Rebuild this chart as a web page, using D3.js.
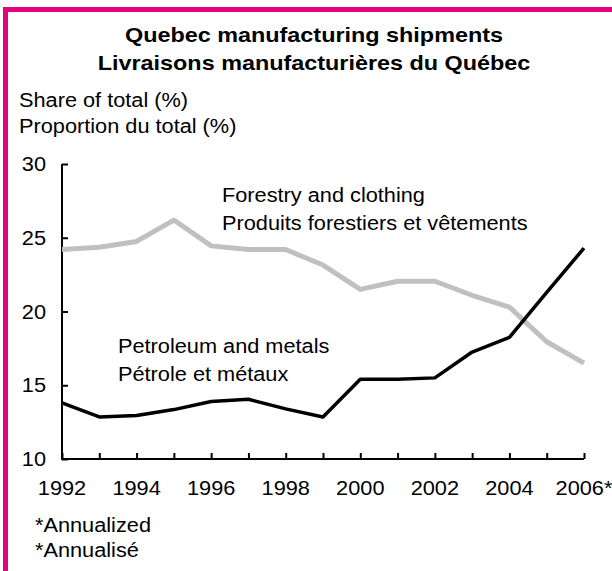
<!DOCTYPE html>
<html>
<head>
<meta charset="utf-8">
<script src="https://cdn.jsdelivr.net/npm/d3@7"></script>
<style>
  html, body { margin: 0; padding: 0; background: #fff; }
  svg { display: block; }
  text { font-family: "Liberation Sans", Arial, Helvetica, sans-serif; fill: #000; }
</style>
</head>
<body>
<svg id="chart" width="612" height="571"></svg>
<script>
// ---- Data ----
const years = [1992,1993,1994,1995,1996,1997,1998,1999,2000,2001,2002,2003,2004,2005,2006];
const forestryClothing = [24.2,24.35,24.75,26.2,24.45,24.2,24.2,23.15,21.5,22.05,22.05,21.1,20.3,17.95,16.5];
const petroleumMetals  = [13.8,12.85,12.95,13.35,13.9,14.05,13.4,12.85,15.4,15.4,15.5,17.25,18.25,21.3,24.3];
const yTicks = [10,15,20,25,30];
const xLabelYears = [1992,1994,1996,1998,2000,2002,2004,2006];
const titleLines = ["Quebec manufacturing shipments", "Livraisons manufacturières du Québec"];
const yTitleLines = ["Share of total (%)", "Proportion du total (%)"];
const forestryLabel = ["Forestry and clothing", "Produits forestiers et vêtements"];
const petroleumLabel = ["Petroleum and metals", "Pétrole et métaux"];
const footnotes = ["*Annualized", "*Annualisé"];

// ---- Layout ----
const svg = d3.select("#chart");
const FS = 19.5, SX = 1.115;     // regular text size / horizontal stretch
const TFS = 19.5, TSX = 1.2;     // title

const x = d3.scaleLinear().domain([1992, 2006]).range([62, 584]);
const y = d3.scaleLinear().domain([10, 30]).range([459, 164]);

// border
svg.append("rect")
  .attr("x", 5.5).attr("y", 9.5)
  .attr("width", 700).attr("height", 700)
  .attr("fill", "none").attr("stroke", "#e6007e").attr("stroke-width", 5);

function txt(str, px, py, opts = {}) {
  const t = svg.append("text")
    .attr("transform", `translate(${px},${py}) scale(${opts.sx || SX},1)`)
    .attr("font-size", opts.fs || FS)
    .attr("text-anchor", opts.anchor || "start")
    .text(str);
  if (opts.bold) t.attr("font-weight", "bold");
  return t;
}

// titles
titleLines.forEach((s, i) => txt(s, 314, 42 + i * 28, {fs: TFS, sx: TSX, bold: true, anchor: "middle"}));
yTitleLines.forEach((s, i) => txt(s, 19, 107 + i * 25.5));

// axes
const yAxis = d3.axisLeft(y).tickValues(yTicks).tickSize(-6).tickPadding(16).tickFormat(d3.format("d"));
const gy = svg.append("g").attr("transform", `translate(${x(1992)},0)`).call(yAxis);
gy.select(".domain").remove();
gy.selectAll(".tick line").attr("stroke", "#000").attr("stroke-width", 2);
gy.selectAll(".tick text").remove();
yTicks.forEach(v => txt(String(v), 46, y(v) + 7, {anchor: "end"}));

const xAxis = d3.axisBottom(x).tickValues(years).tickSize(-6).tickFormat("");
const gx = svg.append("g").attr("transform", `translate(0,${y(10)})`).call(xAxis);
gx.select(".domain").remove();
gx.selectAll(".tick line").attr("stroke", "#000").attr("stroke-width", 2);
xLabelYears.forEach(v => txt(v === 2006 ? v + "*" : String(v), x(v), 495, {anchor: "middle"}));

// axis lines
svg.append("path")
  .attr("d", d3.line()([[x(1992), y(30)], [x(1992), y(10)], [x(2006), y(10)]]))
  .attr("fill", "none").attr("stroke", "#000").attr("stroke-width", 2);

// series
const line = d3.line().x((d, i) => x(years[i])).y(d => y(d));
svg.append("path").datum(forestryClothing)
  .attr("d", line).attr("fill", "none").attr("stroke", "#c0c0c0")
  .attr("stroke-width", 5).attr("stroke-linejoin", "round");
svg.append("path").datum(petroleumMetals)
  .attr("d", line).attr("fill", "none").attr("stroke", "#000")
  .attr("stroke-width", 3.5).attr("stroke-linejoin", "round");

// labels
forestryLabel.forEach((s, i) => txt(s, 222, 202 + i * 27.5));
petroleumLabel.forEach((s, i) => txt(s, 118, 353 + i * 28));
footnotes.forEach((s, i) => txt(s, 35, 532 + i * 25));
</script>
</body>
</html>
